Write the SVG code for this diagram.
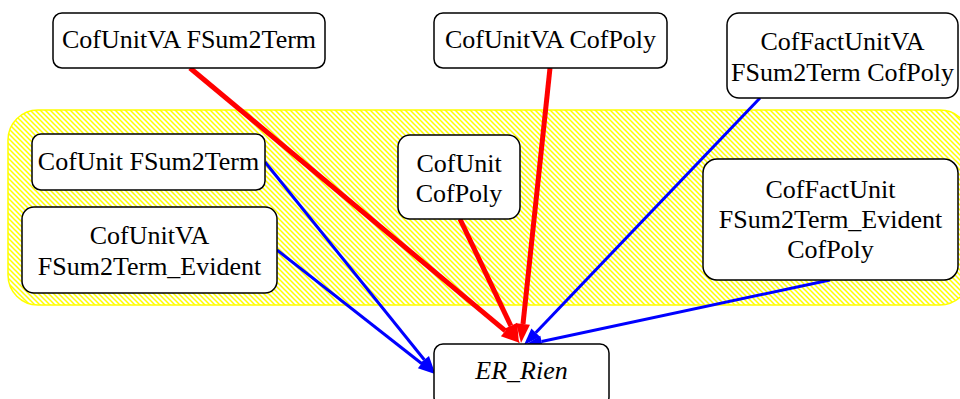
<svg xmlns="http://www.w3.org/2000/svg" width="960" height="399" viewBox="0 0 960 399">
<style>
.n rect{fill:#fff;stroke:#000;stroke-width:1.5}
text{font-family:"Liberation Serif","Times New Roman",serif;font-size:26px;fill:#000;text-anchor:middle}
.red{stroke:#ff0000;stroke-width:5;fill:none}
.blue{stroke:#0000ff;stroke-width:3;fill:none}
</style>
<defs>
<pattern id="hatch" width="5" height="5" patternUnits="userSpaceOnUse">
<rect width="5" height="5" fill="#fff"/>
<path d="M-1,-1 L6,6 M-1,4 L1,6 M4,-1 L6,1" stroke="#ffff00" stroke-width="1.5"/>
</pattern>
<marker id="ar" viewBox="0 -7 19 14" markerWidth="19" markerHeight="14" refX="0" refY="0" orient="auto" markerUnits="userSpaceOnUse" overflow="visible">
<path d="M0,-7 L19,0 L0,7 z" fill="#ff0000"/>
</marker>
<marker id="ab" viewBox="0 -6 17 12" markerWidth="17" markerHeight="12" refX="0" refY="0" orient="auto" markerUnits="userSpaceOnUse" overflow="visible">
<path d="M0,-6 L17,0 L0,6 z" fill="#0000ff"/>
</marker>
</defs>
<g id="cluster">
<rect x="8" y="110" width="962" height="195" rx="30" fill="url(#hatch)" stroke="#ffff00" stroke-width="1.5"/>
</g>
<g id="edges">
<line class="red" x1="190" y1="68" x2="505.4" y2="330.8" marker-end="url(#ar)"/>
<line class="red" x1="550" y1="68" x2="523" y2="324.1" marker-end="url(#ar)"/>
<line class="red" x1="460" y1="219" x2="510.8" y2="325.8" marker-end="url(#ar)"/>
<line class="blue" x1="265" y1="162" x2="424.3" y2="359.8" marker-end="url(#ab)"/>
<line class="blue" x1="277" y1="250" x2="421.6" y2="363.5" marker-end="url(#ab)"/>
<line class="blue" x1="760" y1="98" x2="535.7" y2="332.7" marker-end="url(#ab)"/>
<line class="blue" x1="830" y1="280" x2="541.6" y2="341.5" marker-end="url(#ab)"/>
</g>
<g id="n1" class="n"><rect x="53" y="13" width="272" height="55" rx="9"/><text x="189" y="48">CofUnitVA FSum2Term</text></g>
<g id="n2" class="n"><rect x="434" y="13" width="233" height="55" rx="9"/><text x="550.5" y="48">CofUnitVA CofPoly</text></g>
<g id="n3" class="n"><rect x="727" y="13" width="231" height="85" rx="12"/><text x="842.5" y="50">CofFactUnitVA</text><text x="842.5" y="81">FSum2Term CofPoly</text></g>
<g id="n4" class="n"><rect x="32" y="134" width="233" height="56" rx="9"/><text x="148.5" y="170">CofUnit FSum2Term</text></g>
<g id="n5" class="n"><rect x="22" y="207" width="255" height="86" rx="12"/><text x="149.5" y="244">CofUnitVA</text><text x="149.5" y="275">FSum2Term_Evident</text></g>
<g id="n6" class="n"><rect x="398" y="135" width="122" height="84" rx="12"/><text x="459" y="172">CofUnit</text><text x="459" y="202">CofPoly</text></g>
<g id="n7" class="n"><rect x="703" y="159" width="255" height="121" rx="14"/><text x="830.5" y="198">CofFactUnit</text><text x="830.5" y="228">FSum2Term_Evident</text><text x="830.5" y="258">CofPoly</text></g>
<g id="er" class="n"><rect x="434" y="344" width="175" height="62" rx="9"/><text x="521.5" y="379" font-style="italic">ER_Rien</text></g>
</svg>
